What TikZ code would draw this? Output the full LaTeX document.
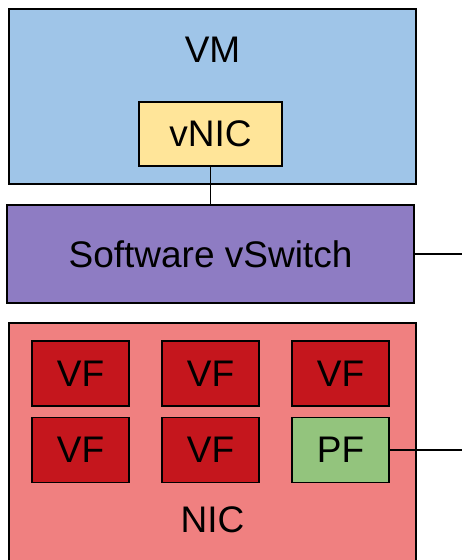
\documentclass[tikz,border=0pt]{standalone}
\usepackage{fontspec}
\setmainfont{Liberation Sans}
\definecolor{vmblue}{HTML}{9FC5E8}
\definecolor{nicyellow}{HTML}{FFE599}
\definecolor{swpurple}{HTML}{8E7CC3}
\definecolor{nicred}{HTML}{F08080}
\definecolor{vfred}{HTML}{C5161D}
\definecolor{pfgreen}{HTML}{93C47D}
\begin{document}
\begin{tikzpicture}[x=1pt,y=-1pt,
  blk/.style={draw=black, line width=1.6pt, inner sep=0pt,
    font=\fontsize{37}{40}\selectfont, text=black},
  fnbox/.style={blk, minimum width=97pt, minimum height=65pt},
  lbl/.style={inner sep=0pt, font=\fontsize{37}{40}\selectfont, text=black},
  wire/.style={draw=black, line width=1.4pt}]
\useasboundingbox (0,0) rectangle (462,560);
\clip (0,0) rectangle (462,560);
% virtual machine with its virtual NIC
\node[blk, fill=vmblue, minimum width=407pt, minimum height=175pt] (vm) at (212.5,96.5) {};
\node[lbl] (vmlabel) at (212.5,50) {VM};
\node[blk, fill=nicyellow, minimum width=143pt, minimum height=64pt] (vnic) at (210.5,134) {vNIC};
% software switch
\node[blk, fill=swpurple, minimum width=407pt, minimum height=98pt] (vswitch) at (210.5,254) {Software vSwitch};
% physical NIC with its functions
\node[blk, fill=nicred, minimum width=407pt, minimum height=277pt] (nic) at (212.5,461.5) {};
\node[lbl] (niclabel) at (212.5,520) {NIC};
\node[fnbox, fill=vfred] (vf1) at (80.5,373.5) {VF};
\node[fnbox, fill=vfred] (vf2) at (210.5,373.5) {VF};
\node[fnbox, fill=vfred] (vf3) at (340.5,373.5) {VF};
\node[fnbox, fill=vfred] (vf4) at (80.5,450) {VF};
\node[fnbox, fill=vfred] (vf5) at (210.5,450) {VF};
\node[fnbox, fill=pfgreen] (pf) at (340.5,450) {PF};
% links
\coordinate (swout) at (462,254);
\coordinate (pfout) at (462,450);
\draw[wire] (vnic.south) -- (vswitch.north);
\draw[wire] (vswitch.east) -- (swout);
\draw[wire] (pf.east) -- (pfout);
\end{tikzpicture}
\end{document}
